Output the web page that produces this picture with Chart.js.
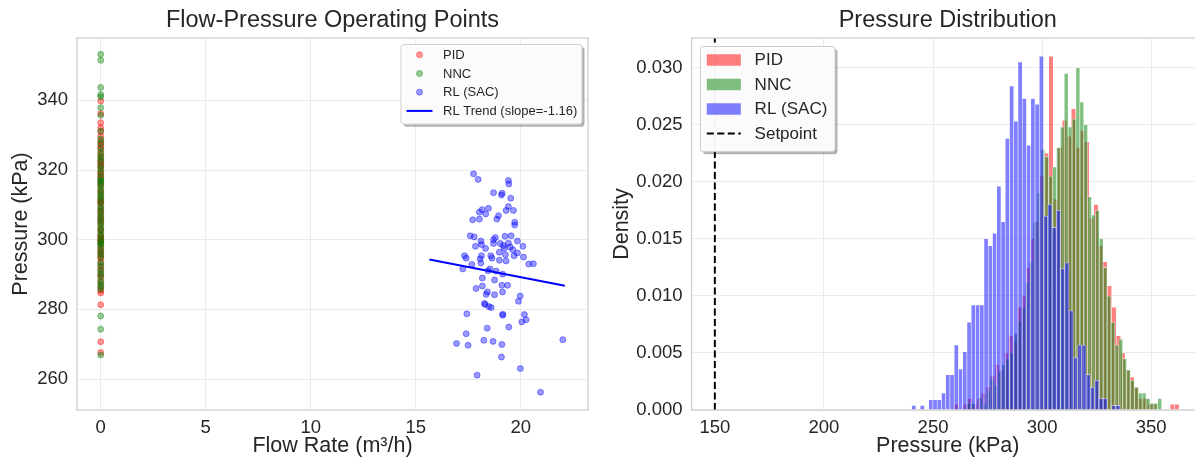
<!DOCTYPE html>
<html lang="en">
<head>
<meta charset="UTF-8">
<title>Flow-Pressure Operating Points / Pressure Distribution</title>
<script src="https://cdn.jsdelivr.net/npm/chart.js@4"></script>
<style>
  html, body { margin: 0; padding: 0; background: #fff; overflow: hidden; }
  #wrap { position: relative; width: 1195px; height: 459px; overflow: hidden; }
  #scatter { position: absolute; left: 0; top: 0; }
  #hist { position: absolute; left: 600px; top: 0; }
</style>
</head>
<body>
<div id="wrap">
  <canvas id="scatter" width="600" height="459"></canvas>
  <canvas id="hist" width="605" height="459"></canvas>
</div>
<script>
// ---- left panel: operating points (flow is 0 for PID and NNC) ----
const pidPressure = [339.8, 336.2, 333.6, 332.1, 331.0, 329.7, 328.4, 327.5, 326.8, 325.9,
  324.6, 323.8, 322.7, 321.5, 320.8, 319.6, 318.9, 317.4, 316.2, 315.5, 314.1, 313.3, 312.0,
  311.2, 310.4, 309.1, 308.3, 307.6, 306.5, 305.2, 304.4, 303.1, 302.6, 301.4, 300.9, 300.3,
  299.5, 298.7, 297.6, 296.8, 295.3, 294.6, 293.5, 292.2, 291.4, 290.1, 289.2, 287.8, 286.5,
  285.4, 284.7, 281.3, 270.7, 267.6, 310.7, 318.2, 322.1, 305.8, 296.1, 299.9];
const nncPressure = [353.2, 351.5, 343.7, 341.7, 341.0, 337.9, 335.7, 331.2, 328.9, 327.8,
  326.3, 325.1, 324.0, 323.2, 322.4, 321.1, 320.3, 319.2, 318.0, 317.1, 316.4, 315.7, 314.8,
  313.9, 313.0, 312.4, 311.6, 310.8, 309.7, 308.9, 308.0, 307.1, 306.2, 305.4, 304.6, 303.7,
  302.8, 301.9, 301.0, 300.2, 299.4, 298.5, 297.7, 296.6, 295.8, 294.9, 293.3, 292.5, 291.2,
  290.4, 289.5, 288.3, 287.4, 286.6, 285.8, 278.1, 274.3, 266.9, 316.9, 299.0];
const rlFlow = [17.75, 17.97, 19.41, 19.43, 18.70, 19.11, 19.08, 19.52, 18.46, 18.16,
  18.33, 18.03, 19.41, 19.65, 19.30, 18.94, 18.86, 17.71, 18.03, 19.71,
  19.71, 17.59, 17.78, 18.10, 18.70, 18.79, 19.25, 19.54, 19.84, 17.84,
  18.13, 18.32, 18.70, 19.02, 19.21, 19.41, 19.49, 19.62, 20.10, 19.17,
  18.98, 18.57, 18.63, 18.06, 18.13, 17.32, 17.40, 19.27, 19.68, 19.84,
  20.13, 18.98, 19.30, 20.38, 20.60, 17.67, 17.24, 18.10, 18.54, 18.83,
  19.14, 18.44, 18.17, 18.75, 17.87, 18.17, 19.10, 19.37, 18.41, 18.35,
  18.75, 19.13, 19.97, 19.89, 18.27, 18.30, 18.48, 18.59, 17.43, 19.14,
  19.14, 20.17, 20.25, 20.05, 19.43, 18.40, 17.40, 18.24, 18.68, 19.10,
  16.94, 17.49, 22.00, 19.08, 19.98, 17.92, 20.94];
const rlPressure = [318.9, 317.3, 317.0, 316.0, 313.5, 313.3, 312.8, 311.9, 309.0, 308.6,
  307.4, 307.9, 309.5, 308.4, 308.4, 306.9, 305.9, 305.7, 305.9, 305.0,
  304.2, 301.1, 300.8, 299.6, 300.0, 300.6, 301.0, 301.1, 299.6, 298.1,
  298.6, 297.5, 298.9, 298.9, 297.5, 299.0, 297.9, 297.1, 298.1, 298.3,
  296.4, 295.4, 294.7, 294.5, 295.4, 295.4, 294.7, 295.7, 295.4, 296.2,
  295.0, 294.1, 293.9, 293.0, 293.1, 292.9, 291.6, 293.3, 291.6, 291.0,
  290.1, 291.1, 289.0, 288.4, 286.0, 286.7, 286.9, 286.9, 285.0, 284.3,
  284.2, 285.0, 283.8, 282.3, 281.7, 281.4, 280.8, 280.5, 278.7, 278.6,
  278.3, 278.5, 277.0, 276.4, 274.9, 274.6, 273.0, 271.1, 270.8, 269.9,
  270.2, 269.7, 271.3, 266.3, 263.0, 261.1, 256.2];
const trendFlow = [15.65, 22.1];
const trendPressure = [294.3, 286.8];

// ---- right panel: pressure histograms (density per bin) ----
const pidBinStart = 259.8, pidBinWidth = 2.06;
const pidDensity = [0.0005, 0, 0.0005, 0.0010, 0.0005, 0.0010, 0.0015, 0.0020, 0.0030, 0.0040,
  0.0035, 0.0050, 0.0065, 0.0060, 0.0090, 0.0100, 0.0125, 0.0150, 0.0165, 0.0205,
  0.0225, 0.0310, 0.0185, 0.0230, 0.0254, 0.0240, 0.0264, 0.0230, 0.0245, 0.0235,
  0.0168, 0.0180, 0.0144, 0.0130, 0.0109, 0.0090, 0.0065, 0.0050, 0.0035, 0.0029,
  0.0020, 0.0010, 0.0010, 0.0005, 0.0005, 0, 0, 0, 0.0005, 0.0005];
const nncBinStart = 265.5, nncBinWidth = 1.786;
const nncDensity = [0.0006, 0.0006, 0, 0.0011, 0.0006, 0.0017, 0.0028, 0.0022, 0.0034, 0.0040,
  0.0045, 0.0050, 0.0067, 0.0078, 0.0090, 0.0112, 0.0130, 0.0165, 0.0190, 0.0228,
  0.0222, 0.0205, 0.0213, 0.0230, 0.0248, 0.0295, 0.0248, 0.0255, 0.0300, 0.0270,
  0.0250, 0.0187, 0.0171, 0.0175, 0.0150, 0.0125, 0.0100, 0.0077, 0.0057, 0.0062,
  0.0045, 0.0035, 0.0026, 0.0020, 0.0015, 0.0015, 0.0010, 0.0006, 0.0006, 0.0010];
const rlBinStart = 240.2, rlBinWidth = 1.95;
const rlDensity = [0.0004, 0, 0.0004, 0, 0.0009, 0.0009, 0.0009, 0.0015, 0.0031, 0.0031,
  0.0057, 0.0036, 0.0051, 0.0077, 0.0092, 0.0092, 0.0092, 0.0150, 0.0144, 0.0155,
  0.0196, 0.0165, 0.0238, 0.0284, 0.0253, 0.0305, 0.0273, 0.0232, 0.0273, 0.0268,
  0.0310, 0.0170, 0.0180, 0.0160, 0.0175, 0.0124, 0.0129, 0.0087, 0.0046, 0.0057,
  0.0057, 0.0031, 0.0020, 0.0026, 0.0010, 0.0010, 0, 0.0004, 0.0004, 0];
const setpoint = 150;

// axis limits
const flowRange = [-1.13, 23.2];
const pressureRange = [251.1, 357.9];
const histPressureRange = [139.3, 374.2];
const densityRange = [0, 0.0326];

const FONT = '"Liberation Sans", Arial, sans-serif';
const TEXT = '#262626';
const GRID = '#ebebeb';
Chart.defaults.font.family = FONT;
Chart.defaults.color = TEXT;

// light grey box round the plot area, as seaborn whitegrid draws it
const framePlugin = {
  id: 'frame',
  afterDatasetsDraw(chart) {
    const { ctx, chartArea: a } = chart;
    ctx.save();
    ctx.strokeStyle = '#cccccc';
    ctx.lineWidth = 1.25;
    ctx.strokeRect(a.left, a.top, a.right - a.left, a.bottom - a.top);
    ctx.restore();
  }
};

function roundRect(ctx, x, y, w, h, r) {
  ctx.beginPath();
  ctx.moveTo(x + r, y);
  ctx.arcTo(x + w, y, x + w, y + h, r);
  ctx.arcTo(x + w, y + h, x, y + h, r);
  ctx.arcTo(x, y + h, x, y, r);
  ctx.arcTo(x, y, x + w, y, r);
  ctx.closePath();
}

// matplotlib-like legend box (frame + shadow), items taken from the datasets
const legendPlugin = {
  id: 'legendBox',
  afterDraw(chart, args, o) {
    const ctx = chart.ctx;
    ctx.save();
    ctx.fillStyle = 'rgba(0,0,0,0.3)';
    roundRect(ctx, o.x + 2.5, o.y + 2.5, o.w, o.h, 3);
    ctx.fill();
    ctx.fillStyle = 'rgba(255,255,255,0.95)';
    roundRect(ctx, o.x, o.y, o.w, o.h, 3);
    ctx.fill();
    ctx.strokeStyle = '#cccccc';
    ctx.lineWidth = 1;
    ctx.stroke();

    ctx.font = o.fontSize + 'px ' + FONT;
    ctx.textBaseline = 'middle';
    o.items.forEach((item, k) => {
      const ds = chart.data.datasets[item.index];
      const cy = o.rowY + k * o.rowGap;
      const x0 = o.handleX, x1 = o.handleX + o.handleLen;
      ctx.setLineDash([]);
      if (item.kind === 'dot') {
        ctx.beginPath();
        ctx.arc((x0 + x1) / 2, cy, 3, 0, Math.PI * 2);
        ctx.fillStyle = ds.backgroundColor;
        ctx.fill();
        ctx.strokeStyle = ds.borderColor;
        ctx.lineWidth = 1;
        ctx.stroke();
      } else if (item.kind === 'box') {
        ctx.fillStyle = ds.backgroundColor;
        ctx.fillRect(x0, cy - o.boxH / 2, o.handleLen, o.boxH);
      } else {
        ctx.beginPath();
        ctx.moveTo(x0, cy);
        ctx.lineTo(x1, cy);
        ctx.strokeStyle = ds.borderColor;
        ctx.lineWidth = ds.borderWidth;
        if (ds.borderDash) ctx.setLineDash(ds.borderDash);
        ctx.stroke();
      }
      ctx.fillStyle = TEXT;
      ctx.fillText(ds.label, o.textX, cy + 0.5);
    });
    ctx.restore();
  }
};

function pointsAt(xs, ys) {
  return ys.map((y, i) => ({ x: xs[i], y: y }));
}

// ---------------- left chart ----------------
new Chart(document.getElementById('scatter'), {
  type: 'scatter',
  data: {
    datasets: [
      { label: 'PID', data: pidPressure.map(p => ({ x: 0, y: p })),
        backgroundColor: 'rgba(255,0,0,0.4)', borderColor: 'rgba(255,0,0,0.4)',
        borderWidth: 1, pointRadius: 3, order: 4 },
      { label: 'NNC', data: nncPressure.map(p => ({ x: 0, y: p })),
        backgroundColor: 'rgba(0,128,0,0.4)', borderColor: 'rgba(0,128,0,0.4)',
        borderWidth: 1, pointRadius: 3, order: 3 },
      { label: 'RL (SAC)', data: pointsAt(rlFlow, rlPressure),
        backgroundColor: 'rgba(0,0,255,0.4)', borderColor: 'rgba(0,0,255,0.4)',
        borderWidth: 1, pointRadius: 3, order: 2 },
      { label: 'RL Trend (slope=-1.16)', data: pointsAt(trendFlow, trendPressure),
        showLine: true, borderColor: '#0000ff', backgroundColor: '#0000ff',
        borderWidth: 2, pointRadius: 0, order: 1 }
    ]
  },
  options: {
    responsive: false,
    animation: false,
    layout: { padding: { left: 0, right: 12, top: 0, bottom: 0 } },
    plugins: {
      legend: { display: false },
      tooltip: { enabled: false },
      title: { display: true, text: 'Flow-Pressure Operating Points', fullSize: false,
        color: TEXT, font: { size: 23.5, weight: 'normal' }, padding: { top: 6, bottom: 3.8 } },
      legendBox: {
        x: 401, y: 44.5, w: 181, h: 79.7, fontSize: 13,
        rowY: 54.8, rowGap: 18.7, handleX: 406.5, handleLen: 26, textX: 443, boxH: 9,
        items: [{ index: 0, kind: 'dot' }, { index: 1, kind: 'dot' },
                { index: 2, kind: 'dot' }, { index: 3, kind: 'line' }]
      }
    },
    scales: {
      x: {
        type: 'linear', min: flowRange[0], max: flowRange[1],
        afterFit: s => { s.height = 49; },
        ticks: { stepSize: 5, includeBounds: false, padding: 7, font: { size: 18.5 } },
        grid: { color: GRID, drawTicks: false },
        border: { display: false },
        title: { display: true, text: 'Flow Rate (m³/h)', font: { size: 21.5 }, padding: { top: 0, bottom: 0 } }
      },
      y: {
        type: 'linear', min: pressureRange[0], max: pressureRange[1],
        afterFit: s => { s.width = 77; },
        ticks: { stepSize: 20, includeBounds: false, padding: 9, font: { size: 18.5 } },
        grid: { color: GRID, drawTicks: false },
        border: { display: false },
        title: { display: true, text: 'Pressure (kPa)', font: { size: 21.5 }, padding: { top: 8, bottom: 0 } }
      }
    }
  },
  plugins: [framePlugin, legendPlugin]
});

// ---------------- right chart ----------------
function histSet(label, start, width, density, color, order) {
  return {
    label: label, order: order, binWidth: width,
    data: density.map((d, i) => ({ x: start + width * (i + 0.5), y: d })),
    backgroundColor: color, borderColor: 'rgba(255,255,255,0.65)', borderWidth: 0.6,
    grouped: false, barThickness: 4
  };
}

const histChart = new Chart(document.getElementById('hist'), {
  type: 'bar',
  data: {
    datasets: [
      histSet('PID', pidBinStart, pidBinWidth, pidDensity, 'rgba(255,0,0,0.5)', 4),
      histSet('NNC', nncBinStart, nncBinWidth, nncDensity, 'rgba(0,128,0,0.5)', 3),
      histSet('RL (SAC)', rlBinStart, rlBinWidth, rlDensity, 'rgba(0,0,255,0.5)', 2),
      { type: 'line', label: 'Setpoint',
        data: [{ x: setpoint, y: densityRange[0] }, { x: setpoint, y: densityRange[1] }],
        borderColor: '#000000', borderWidth: 2, borderDash: [7, 3.5], pointRadius: 0, order: 1 }
    ]
  },
  options: {
    responsive: false,
    animation: false,
    layout: { padding: { left: 0, right: 0, top: 0, bottom: 0 } },
    plugins: {
      legend: { display: false },
      tooltip: { enabled: false },
      title: { display: true, text: 'Pressure Distribution', fullSize: false,
        color: TEXT, font: { size: 23.5, weight: 'normal' }, padding: { top: 6, bottom: 3.8 } },
      legendBox: {
        x: 100.5, y: 46.5, w: 134.5, h: 105.2, fontSize: 17,
        rowY: 60, rowGap: 24.5, handleX: 106.8, handleLen: 34, textX: 154.6, boxH: 11.5,
        items: [{ index: 0, kind: 'box' }, { index: 1, kind: 'box' },
                { index: 2, kind: 'box' }, { index: 3, kind: 'line' }]
      }
    },
    scales: {
      x: {
        type: 'linear', offset: false, min: histPressureRange[0], max: histPressureRange[1],
        afterFit: s => { s.height = 49; },
        ticks: { stepSize: 50, includeBounds: false, padding: 7, font: { size: 18.5 } },
        grid: { color: GRID, drawTicks: false, offset: false },
        border: { display: false },
        title: { display: true, text: 'Pressure (kPa)', font: { size: 21.5 }, padding: { top: 0, bottom: 0 } }
      },
      y: {
        type: 'linear', min: densityRange[0], max: densityRange[1],
        afterFit: s => { s.width = 91.5; },
        ticks: { stepSize: 0.005, includeBounds: false, padding: 9, font: { size: 18.5 },
          callback: v => v.toFixed(3) },
        grid: { color: GRID, drawTicks: false },
        border: { display: false },
        title: { display: true, text: 'Density', font: { size: 21.5 }, padding: { top: 9, bottom: 0 } }
      }
    }
  },
  plugins: [framePlugin, legendPlugin]
});

// bar widths follow each histogram's bin width on the pressure axis
function fitBins(chart) {
  const xs = chart.scales.x;
  const pxPerUnit = xs.getPixelForValue(1) - xs.getPixelForValue(0);
  chart.data.datasets.forEach(ds => {
    if (ds.binWidth) ds.barThickness = ds.binWidth * pxPerUnit;
  });
  chart.update('none');
}
fitBins(histChart);
</script>
</body>
</html>
